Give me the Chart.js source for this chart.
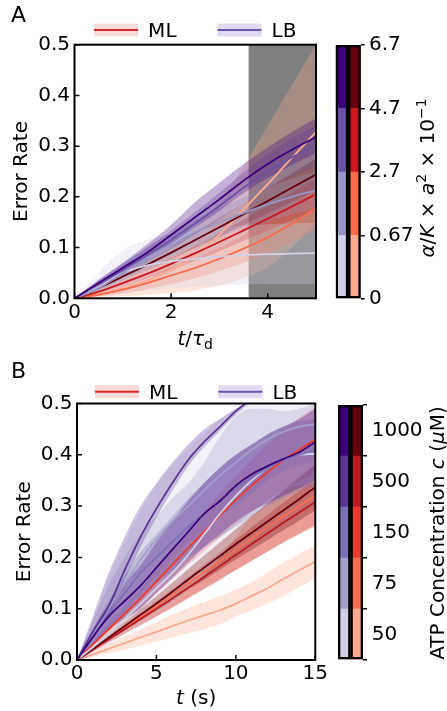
<!DOCTYPE html>
<html>
<head>
<meta charset="utf-8">
<title>Error rate, ML vs LB</title>
<script src="https://cdn.jsdelivr.net/npm/chart.js"></script>
<style>
  body { margin: 0; background: #fff; }
  #wrap { position: relative; width: 447px; height: 711px; overflow: hidden; }
  canvas { position: absolute; }
</style>
</head>
<body>
<div id="wrap">
  <canvas id="mainA" width="330" height="355" style="left:0;top:0"></canvas>
  <canvas id="barA" width="117" height="355" style="left:330px;top:0"></canvas>
  <canvas id="mainB" width="330" height="356" style="left:0;top:355px"></canvas>
  <canvas id="barB" width="117" height="356" style="left:330px;top:355px"></canvas>
</div>
<script>
// ---------- panel A : error rate vs t/tau_d ----------
const tA = [0, 0.5, 1, 1.5, 2, 2.5, 3, 3.5, 4, 4.5, 5];
const alphaTicks = ['0', '0.67', '2.7', '4.7', '6.7'];
// rows: alpha/K*a^2 = 0.67, 2.7, 4.7, 6.7
const mlA = [
  [0, 0.008, 0.02, 0.035, 0.055, 0.085, 0.125, 0.175, 0.225, 0.277, 0.328],
  [0, 0.007, 0.017, 0.03, 0.045, 0.06, 0.078, 0.098, 0.12, 0.147, 0.177],
  [0, 0.013, 0.03, 0.048, 0.068, 0.089, 0.111, 0.134, 0.157, 0.181, 0.205],
  [0, 0.02, 0.043, 0.066, 0.09, 0.115, 0.14, 0.166, 0.192, 0.218, 0.244]
];
const mlALo = [
  [0, 0.002, 0.004, 0.007, 0.01, 0.016, 0.025, 0.04, 0.06, 0.1, 0.15],
  [0, 0.004, 0.01, 0.018, 0.028, 0.04, 0.054, 0.07, 0.088, 0.11, 0.135],
  [0, 0.01, 0.024, 0.039, 0.056, 0.074, 0.093, 0.113, 0.133, 0.154, 0.175],
  [0, 0.016, 0.036, 0.056, 0.077, 0.099, 0.121, 0.144, 0.167, 0.19, 0.213]
];
const mlAHi = [
  [0, 0.015, 0.04, 0.065, 0.1, 0.14, 0.19, 0.26, 0.34, 0.42, 0.5],
  [0, 0.01, 0.024, 0.042, 0.062, 0.08, 0.1, 0.125, 0.152, 0.185, 0.22],
  [0, 0.016, 0.036, 0.057, 0.08, 0.104, 0.129, 0.155, 0.181, 0.208, 0.235],
  [0, 0.024, 0.05, 0.076, 0.103, 0.131, 0.159, 0.188, 0.217, 0.246, 0.275]
];
const lbA = [
  [0, 0.022, 0.05, 0.065, 0.073, 0.078, 0.082, 0.085, 0.087, 0.088, 0.089],
  [0, 0.02, 0.05, 0.08, 0.105, 0.13, 0.15, 0.168, 0.185, 0.2, 0.213],
  [0, 0.028, 0.056, 0.085, 0.115, 0.148, 0.182, 0.218, 0.25, 0.278, 0.3],
  [0, 0.03, 0.06, 0.09, 0.125, 0.16, 0.195, 0.232, 0.265, 0.293, 0.318]
];
const lbALo = [
  [0, 0.004, 0.01, 0.015, 0.02, 0.023, 0.025, 0.027, 0.028, 0.028, 0.028],
  [0, 0.012, 0.035, 0.06, 0.083, 0.104, 0.122, 0.138, 0.152, 0.165, 0.176],
  [0, 0.02, 0.045, 0.07, 0.097, 0.126, 0.156, 0.188, 0.216, 0.24, 0.26],
  [0, 0.024, 0.05, 0.077, 0.108, 0.14, 0.172, 0.207, 0.237, 0.263, 0.286]
];
const lbAHi = [
  [0, 0.05, 0.095, 0.115, 0.127, 0.134, 0.139, 0.143, 0.146, 0.148, 0.149],
  [0, 0.03, 0.065, 0.1, 0.128, 0.155, 0.178, 0.198, 0.218, 0.236, 0.25],
  [0, 0.036, 0.068, 0.1, 0.133, 0.17, 0.208, 0.248, 0.284, 0.315, 0.34],
  [0, 0.036, 0.07, 0.106, 0.145, 0.19, 0.228, 0.265, 0.298, 0.328, 0.355]
];
const shadeA = [3.6, 5];   // grey window on the t axis

// ---------- panel B : error rate vs t (s) ----------
const tB = [0, 1, 2, 3, 4, 5, 6, 7, 8, 9, 10, 11, 12, 13, 14, 15];
const atpTicks = ['50', '75', '150', '500', '1000'];
// rows: ATP = 50, 75, 150, 500, 1000 uM
const mlB = [
  [0, 0.011, 0.022, 0.033, 0.044, 0.055, 0.066, 0.077, 0.087, 0.097, 0.11, 0.125, 0.14, 0.158, 0.175, 0.192],
  [0, 0.02, 0.041, 0.062, 0.083, 0.105, 0.127, 0.149, 0.171, 0.193, 0.215, 0.237, 0.259, 0.28, 0.3, 0.32],
  [0, 0.03, 0.06, 0.09, 0.12, 0.153, 0.186, 0.218, 0.25, 0.282, 0.312, 0.34, 0.366, 0.39, 0.41, 0.43],
  [0, 0.02, 0.04, 0.06, 0.08, 0.1, 0.12, 0.141, 0.162, 0.183, 0.205, 0.226, 0.247, 0.268, 0.288, 0.308],
  [0, 0.022, 0.044, 0.066, 0.088, 0.11, 0.133, 0.157, 0.18, 0.203, 0.226, 0.248, 0.27, 0.292, 0.314, 0.337]
];
const mlBLo = [
  [0, 0.006, 0.013, 0.02, 0.028, 0.036, 0.044, 0.052, 0.06, 0.069, 0.085, 0.097, 0.11, 0.125, 0.142, 0.16],
  [0, 0.016, 0.034, 0.051, 0.068, 0.086, 0.104, 0.122, 0.14, 0.158, 0.176, 0.194, 0.212, 0.229, 0.245, 0.26],
  [0, 0.025, 0.05, 0.076, 0.102, 0.13, 0.158, 0.185, 0.212, 0.239, 0.265, 0.289, 0.311, 0.332, 0.349, 0.366],
  [0, 0.017, 0.034, 0.051, 0.068, 0.085, 0.102, 0.12, 0.138, 0.156, 0.175, 0.193, 0.211, 0.229, 0.246, 0.263],
  [0, 0.019, 0.038, 0.057, 0.076, 0.095, 0.115, 0.136, 0.156, 0.176, 0.196, 0.215, 0.234, 0.253, 0.272, 0.292]
];
const mlBHi = [
  [0, 0.016, 0.031, 0.046, 0.06, 0.074, 0.088, 0.101, 0.113, 0.125, 0.137, 0.152, 0.17, 0.19, 0.207, 0.222],
  [0, 0.024, 0.048, 0.073, 0.098, 0.124, 0.15, 0.176, 0.202, 0.228, 0.254, 0.28, 0.306, 0.331, 0.355, 0.38],
  [0, 0.035, 0.07, 0.104, 0.138, 0.176, 0.214, 0.251, 0.288, 0.325, 0.359, 0.391, 0.421, 0.449, 0.472, 0.494],
  [0, 0.023, 0.046, 0.069, 0.092, 0.115, 0.138, 0.162, 0.186, 0.21, 0.235, 0.259, 0.283, 0.307, 0.33, 0.353],
  [0, 0.025, 0.05, 0.075, 0.1, 0.125, 0.151, 0.178, 0.204, 0.23, 0.256, 0.281, 0.306, 0.331, 0.356, 0.382]
];
const lbB = [
  [0, 0.025, 0.05, 0.08, 0.11, 0.14, 0.17, 0.205, 0.245, 0.285, 0.32, 0.35, 0.375, 0.392, 0.4, 0.402],
  [0, 0.05, 0.1, 0.15, 0.195, 0.235, 0.27, 0.3, 0.33, 0.36, 0.385, 0.41, 0.43, 0.445, 0.455, 0.46],
  [0, 0.045, 0.09, 0.13, 0.17, 0.2, 0.23, 0.26, 0.285, 0.31, 0.335, 0.355, 0.375, 0.39, 0.4, 0.41],
  [0, 0.055, 0.105, 0.175, 0.24, 0.295, 0.345, 0.39, 0.425, 0.455, 0.485, 0.51],
  [0, 0.045, 0.085, 0.115, 0.145, 0.18, 0.215, 0.25, 0.285, 0.31, 0.34, 0.362, 0.378, 0.392, 0.405, 0.425]
];
const lbBLo = [
  [0, 0.015, 0.03, 0.05, 0.07, 0.09, 0.11, 0.135, 0.165, 0.2, 0.24, 0.28, 0.31, 0.33, 0.34, 0.345],
  [0, 0.03, 0.06, 0.095, 0.13, 0.165, 0.2, 0.23, 0.255, 0.28, 0.3, 0.325, 0.35, 0.37, 0.38, 0.39],
  [0, 0.03, 0.06, 0.09, 0.12, 0.15, 0.175, 0.2, 0.22, 0.24, 0.26, 0.28, 0.3, 0.315, 0.33, 0.34],
  [0, 0.045, 0.09, 0.155, 0.22, 0.278, 0.33, 0.378, 0.415, 0.447, 0.478, 0.505],
  [0, 0.03, 0.06, 0.08, 0.1, 0.13, 0.16, 0.19, 0.22, 0.245, 0.27, 0.29, 0.305, 0.32, 0.335, 0.35]
];
const lbBHi = [
  [0, 0.08, 0.16, 0.23, 0.29, 0.34, 0.38, 0.41, 0.44, 0.47, 0.49, 0.5, 0.5, 0.5, 0.5, 0.5],
  [0, 0.075, 0.145, 0.2, 0.245, 0.28, 0.315, 0.345, 0.385, 0.435, 0.475, 0.49, 0.49, 0.485, 0.49, 0.5],
  [0, 0.06, 0.115, 0.165, 0.21, 0.245, 0.28, 0.315, 0.345, 0.375, 0.4, 0.42, 0.44, 0.455, 0.465, 0.47],
  [0, 0.085, 0.17, 0.24, 0.3, 0.345, 0.385, 0.42, 0.45, 0.47, 0.49, 0.505],
  [0, 0.06, 0.11, 0.15, 0.185, 0.23, 0.27, 0.31, 0.345, 0.375, 0.4, 0.42, 0.44, 0.455, 0.47, 0.49]
];

const legendLabels = ['ML', 'LB'];

// colours (Reds / Purples, light -> dark)
const redsA = ['#fcab8f', '#fb6a4a', '#cb181d', '#67000d'];
const purplesA = ['#d0d1e6', '#9896c8', '#6a51a3', '#3f007d'];
const redsB = ['#fcab8f', '#fc7050', '#ee3a2c', '#bc1a1e', '#67000d'];
const purplesB = ['#d0d1e6', '#a3a0cb', '#7b70b3', '#5b3696', '#3f007d'];
const legendLine = ['#d7262b', '#6a55b0'];
const legendBand = ['#fcd9d9', '#e2daf0'];

Chart.defaults.font.family = '"DejaVu Sans"';
Chart.defaults.font.size = 20;
Chart.defaults.color = '#000';

function pts(xs, ys) {
  return ys.map((y, i) => ({ x: xs[i], y: y }));
}

function rgba(hex, a) {
  const n = parseInt(hex.slice(1), 16);
  return `rgba(${n >> 16},${(n >> 8) & 255},${n & 255},${a})`;
}

// text made of pieces: italic, superscript, subscript; centred on x, baseline y
function drawRich(ctx, parts, x, y, size) {
  const fnt = p => `${p.it ? 'italic ' : ''}${p.sup || p.sub ? size * 0.7 : size}px "DejaVu Sans"`;
  let w = 0;
  parts.forEach(p => { ctx.font = fnt(p); w += ctx.measureText(p.t).width; });
  let cx = x - w / 2;
  ctx.textAlign = 'left';
  ctx.textBaseline = 'alphabetic';
  parts.forEach(p => {
    ctx.font = fnt(p);
    const dy = p.sup ? -0.42 * size : p.sub ? 0.22 * size : 0;
    ctx.fillText(p.t, cx, y + dy);
    cx += ctx.measureText(p.t).width;
  });
}

// box, inward ticks, x title, panel letter, legend
const framePlugin = {
  id: 'frame',
  afterDraw(chart, args, o) {
    const { ctx, chartArea: a } = chart;
    const { x, y } = chart.scales;
    ctx.save();
    ctx.strokeStyle = '#000';
    ctx.lineWidth = 1.5;
    ctx.beginPath();
    x.ticks.forEach(t => {
      const p = x.getPixelForValue(t.value);
      ctx.moveTo(p, a.bottom); ctx.lineTo(p, a.bottom - 5);
    });
    y.ticks.forEach(t => {
      const p = y.getPixelForValue(t.value);
      ctx.moveTo(a.left, p); ctx.lineTo(a.left + 5, p);
    });
    ctx.stroke();
    ctx.lineWidth = 2;
    ctx.strokeRect(a.left, a.top, a.right - a.left, a.bottom - a.top);

    ctx.fillStyle = '#000';
    drawRich(ctx, o.xTitle, (a.left + a.right) / 2, o.xTitleY, 20);
    ctx.font = '22px "DejaVu Sans"';
    ctx.fillText(o.letter, 11, o.letterY);

    // legend above the plot
    ctx.font = '20px "DejaVu Sans"';
    const sw = 44, gap = 10, sep = 41;
    const widths = legendLabels.map(t => ctx.measureText(t).width);
    const total = widths.reduce((s, w) => s + sw + gap + w, 0) + sep * (widths.length - 1);
    let lx = (a.left + a.right) / 2 - total / 2;
    legendLabels.forEach((t, i) => {
      ctx.fillStyle = legendBand[i];
      ctx.fillRect(lx, o.legendY - 6.5, sw, 13);
      ctx.strokeStyle = legendLine[i];
      ctx.lineWidth = 2;
      ctx.beginPath(); ctx.moveTo(lx, o.legendY); ctx.lineTo(lx + sw, o.legendY); ctx.stroke();
      ctx.fillStyle = '#000';
      ctx.fillText(t, lx + sw + gap, o.legendY + 7);
      lx += sw + gap + widths[i] + sep;
    });
    ctx.restore();
  }
};

function buildSets(xs, ml, mlLo, mlHi, lb, lbLo, lbHi, reds, purples) {
  const sets = [];
  const line = (row, col) => ({
    data: pts(xs, row), borderColor: col, borderWidth: 1.8, pointRadius: 0,
    fill: false, order: 1, cubicInterpolationMode: 'monotone'
  });
  // first in list is drawn last, so darkest LB line ends on top
  for (let i = lb.length - 1; i >= 0; i--) sets.push(line(lb[i], purples[i]));
  for (let i = ml.length - 1; i >= 0; i--) sets.push(line(ml[i], reds[i]));
  const band = (lo, hi, cols) => {
    for (let i = lo.length - 1; i >= 0; i--) {
      sets.push({ data: pts(xs, lo[i]), borderWidth: 0, pointRadius: 0, fill: false,
        order: 2, cubicInterpolationMode: 'monotone' });
      sets.push({ data: pts(xs, hi[i]), borderWidth: 0, pointRadius: 0, fill: '-1',
        backgroundColor: rgba(cols[i], 0.3), order: 2, cubicInterpolationMode: 'monotone' });
    }
  };
  band(lbLo, lbHi, purples);
  band(mlLo, mlHi, reds);
  return sets;
}

function mainChart(id, sets, o) {
  return new Chart(document.getElementById(id), {
    type: 'line',
    data: { datasets: sets },
    options: {
      responsive: false, animation: false, events: [],
      layout: { padding: o.pad },
      scales: {
        x: {
          type: 'linear', min: 0, max: o.xMax,
          border: { display: false }, grid: { display: false, drawTicks: false },
          ticks: { stepSize: o.xStep, includeBounds: false, padding: 2, maxRotation: 0 },
          afterFit: s => { s.height = 30; }
        },
        y: {
          min: 0, max: 0.5,
          border: { display: false }, grid: { display: false, drawTicks: false },
          ticks: { stepSize: 0.1, padding: 4.5, callback: v => v.toFixed(1) },
          title: { display: true, text: 'Error Rate', font: { size: 20 }, padding: { top: o.yTitlePad, bottom: 0 } },
          afterFit: s => { s.width = o.yWidth; }
        }
      },
      plugins: {
        legend: { display: false }, tooltip: { enabled: false },
        frame: o.frame
      }
    },
    plugins: [framePlugin]
  });
}

// rotated colourbar label
const cbTitlePlugin = {
  id: 'cbTitle',
  afterDraw(chart, args, o) {
    const ctx = chart.ctx;
    ctx.save();
    ctx.fillStyle = '#000';
    ctx.translate(o.x, o.y);
    ctx.rotate(-Math.PI / 2);
    drawRich(ctx, o.parts, 0, 0, 20);
    ctx.restore();
  }
};

// two stacked columns (LB left, ML right), one floating bar per colour step
function colorbar(id, purples, reds, o) {
  const n = purples.length;
  const sets = [{
    data: [[0, n], [0, n]], backgroundColor: 'rgba(0,0,0,0)', borderColor: '#000',
    borderWidth: 2, borderSkipped: false
  }];
  for (let k = 0; k < n; k++) {
    sets.push({ data: [[k, k + 1], [k, k + 1]], backgroundColor: [purples[k], reds[k]], borderWidth: 0 });
  }
  return new Chart(document.getElementById(id), {
    type: 'bar',
    data: { labels: ['LB', 'ML'], datasets: sets },
    options: {
      responsive: false, animation: false, events: [],
      grouped: false, barPercentage: 1, categoryPercentage: 1,
      layout: { padding: o.pad },
      scales: {
        x: { display: false },
        y: {
          position: 'right', min: 0, max: n,
          border: { display: false },
          grid: { drawOnChartArea: false, drawTicks: true, tickLength: 4, lineWidth: 1.5, color: o.tickColor },
          ticks: { padding: o.tickPad, autoSkip: false, callback: o.label },
          afterBuildTicks: s => { s.ticks = o.tickAt.map(v => ({ value: v })); },
          afterFit: s => { s.width = o.axisW; }
        }
      },
      plugins: {
        legend: { display: false }, tooltip: { enabled: false },
        cbTitle: o.title
      }
    },
    plugins: [cbTitlePlugin]
  });
}

// ---------- panel A ----------
const setsA = buildSets(tA, mlA, mlALo, mlAHi, lbA, lbALo, lbAHi, redsA, purplesA);
setsA.push({
  data: pts(shadeA, [0.5, 0.5]), borderWidth: 0, pointRadius: 0,
  fill: 'origin', backgroundColor: '#808080', order: 3
});
mainChart('mainA', setsA, {
  pad: { top: 44.7, left: 0, right: 14, bottom: 26.7 },
  xMax: 5, xStep: 2, yWidth: 74.5, yTitlePad: 10,
  frame: {
    letter: 'A', letterY: 22, legendY: 30, xTitleY: 345,
    xTitle: [{ t: 't', it: true }, { t: '/' }, { t: 'τ', it: true }, { t: 'd', sub: true }]
  }
});
colorbar('barA', purplesA, redsA, {
  pad: { top: 45, bottom: 56, left: 5.7, right: 0 },
  axisW: 86.3, tickPad: 4.3,
  tickAt: [0, 1, 2, 3, 4],
  label: (v, i) => alphaTicks[i],
  tickColor: '#000',
  title: {
    x: 104, y: 178,
    parts: [{ t: 'α', it: true }, { t: '/' }, { t: 'K', it: true }, { t: ' × ' }, { t: 'a', it: true },
            { t: '2', sup: true }, { t: ' × 10' }, { t: '−1', sup: true }]
  }
});

// ---------- panel B ----------
const setsB = buildSets(tB, mlB, mlBLo, mlBHi, lbB, lbBLo, lbBHi, redsB, purplesB);
mainChart('mainB', setsB, {
  pad: { top: 48.5, left: 0, right: 12, bottom: 21 },
  xMax: 15, xStep: 5, yWidth: 77, yTitlePad: 12.7,
  frame: {
    letter: 'B', letterY: 23, legendY: 36.7, xTitleY: 349,
    xTitle: [{ t: 't', it: true }, { t: ' (s)' }]
  }
});
colorbar('barB', purplesB, redsB, {
  pad: { top: 50, bottom: 51, left: 8, right: 0 },
  axisW: 84, tickPad: 4.7,
  tickAt: [0, 0.5, 1, 1.5, 2, 2.5, 3, 3.5, 4, 4.5, 5],
  label: (v, i) => (i % 2 ? atpTicks[(i - 1) / 2] : ''),
  tickColor: c => (Number.isInteger(c.tick.value) ? '#000' : 'rgba(0,0,0,0)'),
  title: {
    x: 114, y: 178,
    parts: [{ t: 'ATP Concentration ' }, { t: 'c', it: true }, { t: ' (' }, { t: 'μ', it: true }, { t: 'M)' }]
  }
});
</script>
</body>
</html>
